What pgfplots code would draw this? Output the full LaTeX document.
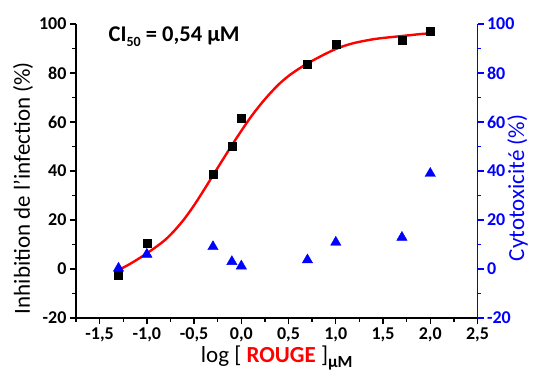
\documentclass[border=0pt]{standalone}
\usepackage{pgfplots}
\pgfplotsset{compat=1.18}
\usepackage{fontspec}
\setmainfont{Carlito}
\definecolor{cblue}{RGB}{0,0,255}
\definecolor{cred}{RGB}{255,0,0}
\begin{document}
\begin{tikzpicture}
\path[use as bounding box] (-76pt,-58pt) rectangle (457pt,318pt);
\begin{axis}[
  at={(0,0)}, anchor=south west,
  scale only axis, width=401.5pt, height=294pt,
  xmin=-1.75, xmax=2.5, ymin=-20, ymax=100,
  axis x line=bottom, axis y line=left,
  axis line style={line width=1.8pt,-},
  tick align=outside, tick style={line width=1.4pt,black},
  major tick length=6pt, minor tick length=3.5pt,
  xtick={-1.5,-1,-0.5,0,0.5,1,1.5,2,2.5},
  minor xtick={-1.75,-1.25,-0.75,-0.25,0.25,0.75,1.25,1.75,2.25},
  ytick={-20,0,20,40,60,80,100},
  minor ytick={-10,10,30,50,70,90},
  /pgf/number format/assume math mode=true,
  x tick label style={/pgf/number format/.cd,fixed,fixed zerofill,precision=1,use comma},
  tick label style={font=\fontsize{18}{20}\selectfont\bfseries},
  ylabel={Inhibition de l'infection (\%)},
  ylabel style={font=\fontsize{23}{26}\selectfont, at={(axis description cs:-0.132,0.442)}, anchor=center},
  xlabel={log [ \textcolor{cred}{\textbf{ROUGE}} ]\raisebox{-5pt}{\fontsize{17}{18}\selectfont\bfseries μM}},
  xlabel style={font=\fontsize{23}{26}\selectfont, at={(axis description cs:0.5,-0.153)}, anchor=base},
  clip=false,
]
\addplot[cred, line width=2.4pt, smooth] coordinates {
(-1.3,-0.4) (-1.2,1.6) (-1.1,3.9) (-1.0,6.4) (-0.9,9.1) (-0.8,12.1)
(-0.7,16.0) (-0.6,20.6) (-0.5,26.0) (-0.4,32.0) (-0.3,38.2) (-0.2,44.4)
(-0.1,50.5) (0.0,56.4) (0.1,62.0) (0.2,67.0) (0.3,71.5) (0.4,75.5)
(0.5,78.8) (0.6,81.5) (0.7,83.9) (0.8,86.0) (0.9,88.0) (1.0,89.8)
(1.1,91.2) (1.2,92.3) (1.3,93.1) (1.4,93.8) (1.5,94.3) (1.6,94.7)
(1.7,95.1) (1.8,95.5) (1.9,95.9) (2.0,96.2)};
\addplot[only marks, mark=square*, mark size=4pt, black] coordinates {
(-1.3,-2.6) (-1.0,10.5) (-0.3,38.8) (-0.1,50.3) (0.0,61.5) (0.7,83.5) (1.0,91.8) (1.7,93.3) (2.0,96.9)};
\node[font=\fontsize{22.5}{24}\selectfont\bfseries, anchor=west, inner sep=0pt] at (axis cs:-1.406,94.7) {CI\raisebox{-5pt}{\fontsize{14}{15}\selectfont\bfseries 50} = 0,54 μM};
\end{axis}
\begin{axis}[
  at={(0,0)}, anchor=south west,
  scale only axis, width=401.5pt, height=294pt,
  xmin=-1.75, xmax=2.5, ymin=-20, ymax=100,
  axis x line=none, axis y line*=right,
  axis line style={line width=1.8pt,cblue,-},
  tick align=outside, tick style={line width=1.4pt,cblue},
  major tick length=6pt, minor tick length=3.5pt,
  ytick={-20,0,20,40,60,80,100},
  minor ytick={-10,10,30,50,70,90},
  /pgf/number format/assume math mode=true,
  tick label style={font=\fontsize{18}{20}\selectfont\bfseries, text=cblue},
  ylabel={Cytotoxicité (\%)},
  ylabel style={font=\fontsize{23}{26}\selectfont, text=cblue, at={(axis description cs:1.10,0.442)}, anchor=center},
  clip=false,
]
\addplot[only marks, mark=triangle*, mark size=6pt, cblue] coordinates {
(-1.3,0.3) (-1.0,6) (-0.3,9.1) (-0.1,3) (0.0,1.2) (0.7,3.7) (1.0,10.9) (1.7,12.9) (2.0,39)};
\end{axis}
\end{tikzpicture}
\end{document}
